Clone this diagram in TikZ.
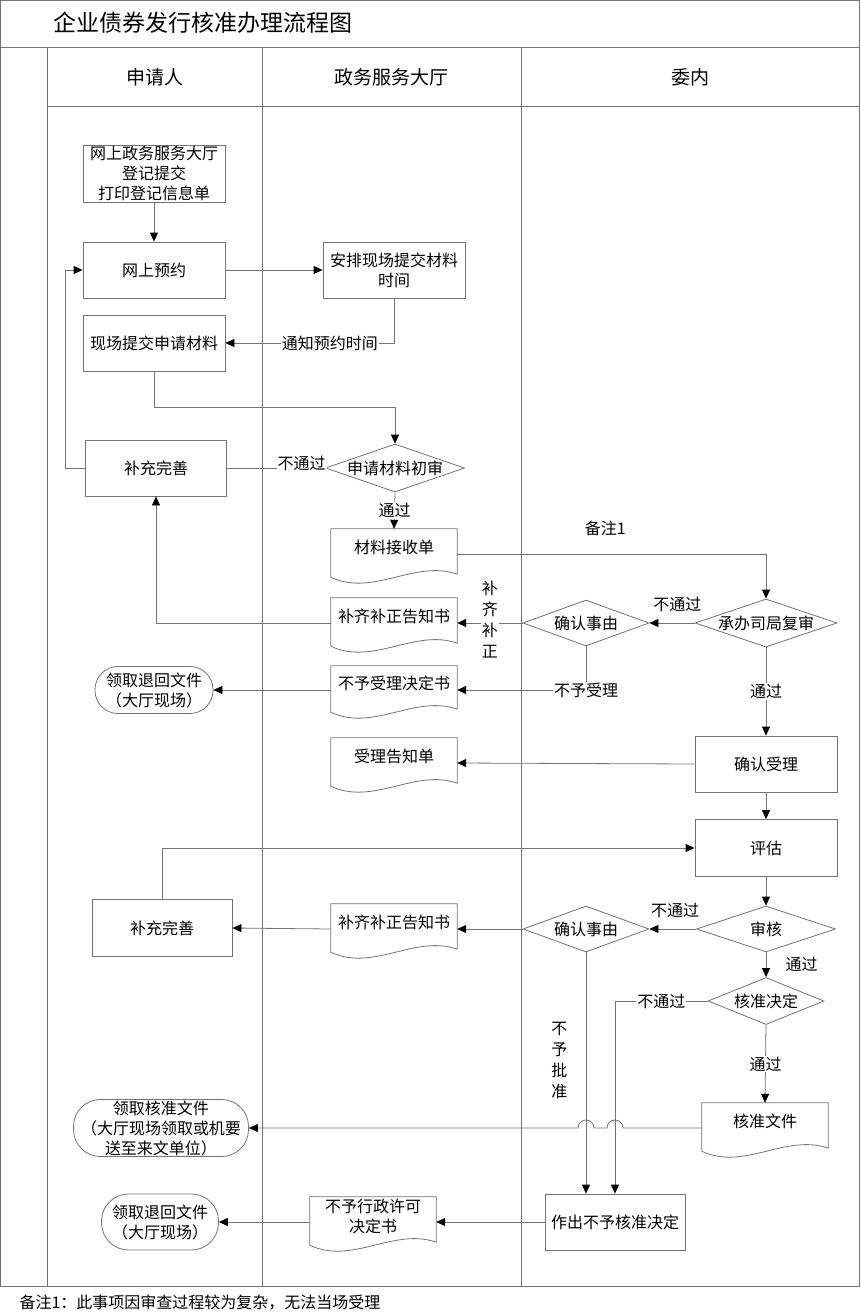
\documentclass[tikz,border=0pt]{standalone}
\usepackage{fontspec}
\setmainfont{Noto Sans CJK SC}
\usetikzlibrary{arrows.meta,shapes.geometric,calc}

\begin{document}
\begin{tikzpicture}[x=1pt,y=-1pt,
  font=\fontsize{16}{20}\selectfont,
  gline/.style={draw=black!55,line width=0.8pt},
  arr/.style={gline,-{Triangle[length=9pt,width=8pt,color=black]}},
  box/.style={gline,rectangle,minimum width=142pt,minimum height=56pt,inner sep=1pt,align=center},
  dia/.style={gline,diamond,aspect=2.9,inner sep=0pt,minimum width=126pt,minimum height=46pt},
  doc/.style={rectangle,minimum width=126pt,minimum height=50pt,inner sep=0pt,text height=12pt,text depth=14pt},
  term/.style={gline,rectangle,rounded corners=23pt,minimum width=118pt,minimum height=47pt,inner sep=1pt,align=center},
  lab/.style={fill=white,inner sep=1pt},
  vlab/.style={align=center,font=\fontsize{16}{21}\selectfont}]
\useasboundingbox (0,0) rectangle (860,1315);
\draw[gline] (0.5,0.5) rectangle (859.5,1286);
\draw[gline] (0.5,47) -- (859.5,47);
\draw[gline] (47,106) -- (859.5,106);
\foreach \x in {47,262,521}
  \draw[gline] (\x,47) -- (\x,1286);
\node[anchor=west,font=\fontsize{23}{28}\selectfont] (title) at (50,23) {企业债券发行核准办理流程图};
\foreach \x/\lab/\nm in {155/申请人/lane1,391/政务服务大厅/lane2,690/委内/lane3}
  \node[font=\fontsize{19}{24}\selectfont] (\nm) at (\x,77) {\lab};

\node[box,minimum height=57pt] (reg) at (154,173.5) {网上政务服务大厅\\登记提交\\打印登记信息单};
\node[box] (yuyue) at (154,270) {网上预约};
\node[box] (anpai) at (394,270) {安排现场提交材料\\时间};
\node[box] (xianchang) at (154,343) {现场提交申请材料};
\node[dia,minimum width=135pt] (chushen) at (395,468) {申请材料初审};
\node[box,minimum width=141pt] (buchong1) at (156,468) {补充完善};
\node[doc] (cailiao) at (394,554) {材料接收单};
\node[dia,minimum width=142pt,minimum height=47pt] (fushen) at (766,623) {承办司局复审};
\node[dia] (queren1) at (586,623) {确认事由};
\node[doc] (buqi1) at (394,623) {补齐补正告知书};
\node[doc,minimum height=48pt] (buyu) at (394,690) {不予受理决定书};
\node[term] (tuihui1) at (154,690) {领取退回文件\\（大厅现场）};
\node[box] (shouli) at (766,764) {确认受理};
\node[doc] (gaozhi) at (394,763) {受理告知单};
\node[box,minimum height=57pt] (pinggu) at (766,848) {评估};
\node[box,minimum width=140pt,minimum height=57pt] (buchong2) at (162,928) {补充完善};
\node[dia,minimum width=139pt] (shenhe) at (766,929) {审核};
\node[dia] (queren2) at (586,929) {确认事由};
\node[doc] (buqi2) at (394,929) {补齐补正告知书};
\node[dia,minimum width=116pt,minimum height=47pt] (hezhun) at (766,1001) {核准决定};
\node[doc] (hzwj) at (765,1128) {核准文件};
\node[term,minimum width=175pt,minimum height=56pt,rounded corners=27pt] (lingqu) at (161,1128) {领取核准文件\\（大厅现场领取或机要\\送至来文单位）};
\node[box,minimum width=140pt] (zuochu) at (615,1222) {作出不予核准决定};
\node[doc,text height=30pt,text depth=10pt,align=center] (buxuke) at (373,1222) {不予行政许可\\决定书};
\node[term,minimum width=117pt,minimum height=56pt,rounded corners=27pt] (tuihui2) at (160,1222) {领取退回文件\\（大厅现场）};
\node[anchor=west] (note) at (16,1303) {备注1：此事项因审查过程较为复杂，无法当场受理};

\foreach \d in {cailiao,buqi1,buyu,gaozhi,buqi2,hzwj,buxuke}
  \draw[gline] (\d.north west) -- (\d.north east) -- ($(\d.south east)+(0,-5)$)
    .. controls ($(\d.south)+(21,-20)$) and ($(\d.south)+(-21,18)$) .. ($(\d.south west)+(0,-2)$) -- cycle;

\draw[arr] (reg.south) -- (yuyue.north);
\draw[arr] (yuyue.east) -- (anpai.west);
\draw[arr] (anpai.south) |- node[lab,pos=.69] {通知预约时间} (xianchang.east);
\draw[arr] (xianchang.south) -- ++(0,36) -| (chushen.north);
\draw[gline] (chushen.west) -- node[lab,pos=.24,yshift=5pt] {不通过} (buchong1.east);
\draw[arr] (buchong1.west) -- ++(-20,0) |- (yuyue.west);
\draw[arr] (chushen.south) -- node[lab] {通过} (cailiao.north);
\draw[arr] (cailiao.east) -| node[pos=.24,above=14pt] {备注1} (fushen.north);
\draw[arr] (fushen.west) -- node[pos=.38,above=8pt] {不通过} (queren1.east);
\draw[arr] (queren1.west) -- node[lab,vlab,yshift=3pt] {补\\齐\\补\\正} (buqi1.east);
\draw[arr] (buqi1.west) -| (buchong1.south);
\draw[arr] (queren1.south) |- node[lab] {不予受理} (buyu.east);
\draw[arr] (buyu.west) -- (tuihui1.east);
\draw[arr] (fushen.south) -- node[lab] {通过} (shouli.north);
\draw[arr] (shouli.west) -- (gaozhi.east);
\draw[arr] (shouli.south) -- (pinggu.north);
\draw[arr] (buchong2.north) |- (pinggu.west);
\draw[arr] (pinggu.south) -- (shenhe.north);
\draw[arr] (shenhe.west) -- node[pos=.45,above=8pt] {不通过} (queren2.east);
\draw[arr] (queren2.west) -- (buqi2.east);
\draw[arr] (buqi2.west) -- (buchong2.east);
\draw[arr] (shenhe.south) -- node[right=16pt] {通过} (hezhun.north);
\draw[arr] (hezhun.west) -| node[lab,pos=.25] {不通过} (zuochu.north);
\draw[arr] (queren2.south) -- node[vlab,pos=.45,left=15pt] {不\\予\\批\\准} (queren2.south |- zuochu.north);
\draw[arr] (hezhun.south) -- node[lab] {通过} (hzwj.north);
\coordinate (hop1) at (zuochu.north |- hzwj.west);
\coordinate (hop2) at (queren2.south |- hzwj.west);
\draw[arr] (hzwj.west) -- ($(hop1)+(8,0)$) arc[start angle=0,end angle=180,radius=8pt]
  -- ($(hop2)+(8,0)$) arc[start angle=0,end angle=180,radius=8pt] -- (lingqu.east);
\draw[arr] (zuochu.west) -- (buxuke.east);
\draw[arr] (buxuke.west) -- (tuihui2.east);
\end{tikzpicture}
\end{document}
